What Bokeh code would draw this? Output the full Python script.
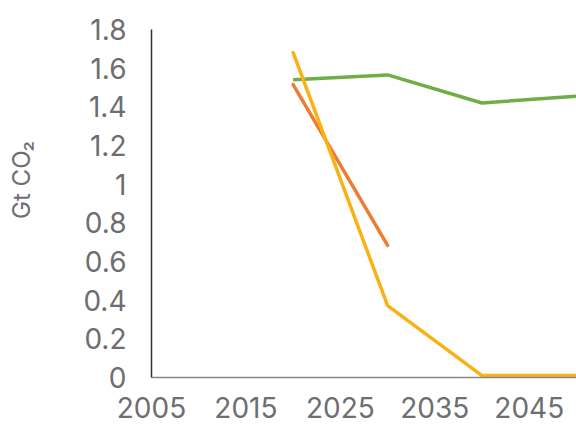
from bokeh.plotting import figure
from bokeh.models import FixedTicker, NumeralTickFormatter, Range1d
from bokeh.embed import file_html
from bokeh.resources import INLINE

years = [2020, 2030, 2040, 2050]
green_vals = [1.54, 1.565, 1.42, 1.455]
orange_years = [2020, 2030]
orange_vals = [1.515, 0.683]
yellow_vals = [1.68, 0.372, 0.01, 0.01]

x_ticks = [2005, 2015, 2025, 2035, 2045]
y_ticks = [0, 0.2, 0.4, 0.6, 0.8, 1.0, 1.2, 1.4, 1.6, 1.8]
y_label = "Gt CO₂"

FONT = "Inter"
TXT = "#6d6e71"

p = figure(width=576, height=424, output_backend="svg", toolbar_location=None,
           x_range=Range1d(2005, 2050), y_range=Range1d(0, 1.8),
           min_border_left=151, min_border_right=0, min_border_top=29, min_border_bottom=47)
p.outline_line_color = None
p.grid.grid_line_color = None
p.background_fill_color = "white"
p.border_fill_color = "white"

p.line(years, green_vals, line_color="#70ad47", line_width=3.5)
p.line(orange_years, orange_vals, line_color="#ed7d31", line_width=3.5, line_cap="round")
p.line(years, yellow_vals, line_color="#fbb116", line_width=3.5, line_cap="round")

p.xaxis.ticker = FixedTicker(ticks=x_ticks)
p.yaxis.ticker = FixedTicker(ticks=y_ticks)
p.yaxis.formatter = NumeralTickFormatter(format="0.[0]")

for ax in (p.xaxis, p.yaxis):
    ax.major_tick_line_color = None
    ax.minor_tick_line_color = None
    ax.major_label_text_font = FONT
    ax.major_label_text_font_size = "28px"
    ax.major_label_text_color = TXT
p.yaxis.axis_line_color = "#333333"
p.yaxis.axis_line_width = 1.5
p.xaxis.axis_line_color = "#888888"
p.xaxis.axis_line_width = 1.5
p.yaxis.major_label_standoff = 19
p.xaxis.major_label_standoff = 13

# leading no-break spaces shift the centred label upward, as in the reference
p.yaxis.axis_label = "\u00a0" * 7 + y_label
p.yaxis.axis_label_text_font = FONT
p.yaxis.axis_label_text_font_size = "24px"
p.yaxis.axis_label_text_font_style = "normal"
p.yaxis.axis_label_text_color = TXT
p.yaxis.axis_label_standoff = 44

open("out.html", "w").write(file_html(p, INLINE))
